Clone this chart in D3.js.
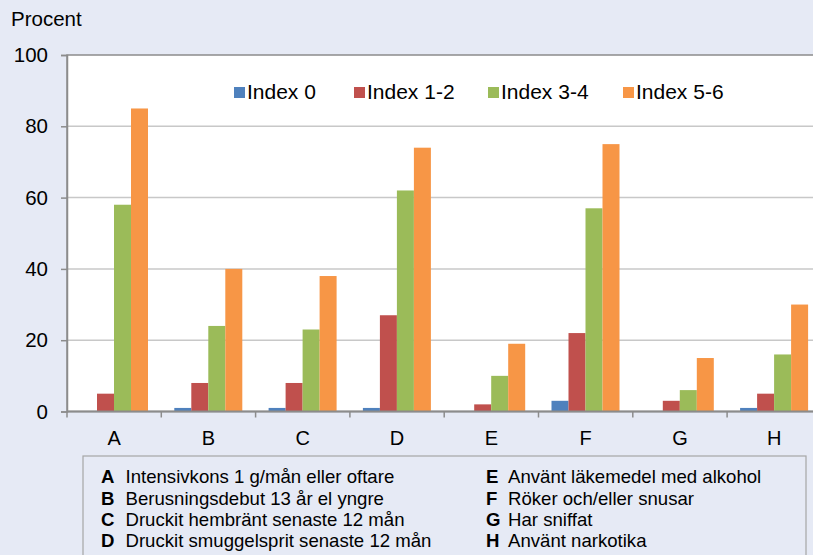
<!DOCTYPE html>
<html><head><meta charset="utf-8">
<script src="https://cdn.jsdelivr.net/npm/d3@7"></script>
<style>body{margin:0;background:#e6eaf5;} svg{display:block;font-family:"Liberation Sans",Arial,sans-serif;}</style>
</head><body>
<script>
const categories = ["A","B","C","D","E","F","G","H"];
const seriesNames = ["Index 0","Index 1-2","Index 3-4","Index 5-6"];
const index0  = [0, 1, 1, 1, 0, 3, 0, 1];
const index12 = [5, 8, 8, 27, 2, 22, 3, 5];
const index34 = [58, 24, 23, 62, 10, 57, 6, 16];
const index56 = [85, 40, 38, 74, 19, 75, 15, 30];
const yTicks = [0, 20, 40, 60, 80, 100];
const notesLeft = [["A","Intensivkons 1 g/mån eller oftare"],["B","Berusningsdebut 13 år el yngre"],["C","Druckit hembränt senaste 12 mån"],["D","Druckit smuggelsprit senaste 12 mån"]];
const notesRight = [["E","Använt läkemedel med alkohol"],["F","Röker och/eller snusar"],["G","Har sniffat"],["H","Använt narkotika"]];
const colors = ["#4f81bd","#c0504d","#9bbb59","#f79646"];
const series = [index0, index12, index34, index56];

(function(){
const W = 813, H = 555;
const svg = d3.select("body").append("svg").attr("width", W).attr("height", H);
svg.append("rect").attr("width", W).attr("height", H).attr("fill", "#e6eaf5");

const pLeft = 67, pTop = 55, pBottom = 411.5, pRight = 67 + 94.3*8;
const x = d3.scaleBand().domain(categories).range([pLeft, pRight]).paddingInner(0).paddingOuter(0);
const x1 = d3.scaleBand().domain(d3.range(4)).range([13, 81]);
const y = d3.scaleLinear().domain([0, 100]).range([pBottom, pTop]);

svg.append("rect").attr("x", pLeft).attr("y", pTop).attr("width", pRight-pLeft).attr("height", pBottom-pTop)
  .attr("fill", "#fff").attr("stroke", "#8c8c8c").attr("stroke-width", 1.5);

svg.append("g").selectAll("line").data(yTicks.filter(d=>d>0 && d<100)).join("line")
  .attr("x1", pLeft).attr("x2", pRight).attr("y1", d=>y(d)).attr("y2", d=>y(d))
  .attr("stroke", "#c8c8c8").attr("stroke-width", 1.5);

const g = svg.append("g");
series.forEach((s, si) => {
  g.selectAll(null).data(s).join("rect")
    .attr("x", (d,i)=>x(categories[i]) + x1(si))
    .attr("width", x1.bandwidth())
    .attr("y", d=>y(d)).attr("height", d=>y(0)-y(d))
    .attr("fill", colors[si]);
});

const yAxis = d3.axisLeft(y).tickValues(yTicks).tickSize(6).tickPadding(13);
const ya = svg.append("g").attr("transform", `translate(${pLeft},0)`).call(yAxis);
ya.select(".domain").attr("stroke", "#8c8c8c").attr("stroke-width", 1.5);
ya.selectAll(".tick line").attr("stroke", "#8c8c8c").attr("stroke-width", 1.5);
ya.selectAll("text").attr("font-size", 20.5).attr("fill", "#000").attr("font-family", "Liberation Sans, Arial, sans-serif");

const boundaries = categories.map(c=>x(c)).concat([pRight]);
const xa = svg.append("g");
xa.append("line").attr("x1", pLeft).attr("x2", pRight).attr("y1", pBottom).attr("y2", pBottom).attr("stroke", "#8c8c8c").attr("stroke-width", 2);
xa.selectAll(".tk").data(boundaries).join("line").attr("class","tk")
  .attr("x1", d=>d).attr("x2", d=>d).attr("y1", pBottom).attr("y2", pBottom+6)
  .attr("stroke", "#8c8c8c").attr("stroke-width", 1.5);
xa.selectAll("text").data(categories).join("text")
  .attr("x", d=>x(d)+x.bandwidth()/2).attr("y", 445).attr("text-anchor","middle")
  .attr("font-size", 20).text(d=>d);

svg.append("text").attr("x", 11).attr("y", 26).attr("font-size", 20.5).text("Procent");

const legX = [234, 354, 488, 623];
const leg = svg.append("g");
seriesNames.forEach((n, i) => {
  leg.append("rect").attr("x", legX[i]).attr("y", 87).attr("width", 11).attr("height", 11).attr("fill", colors[i]);
  leg.append("text").attr("x", legX[i]+13).attr("y", 99).attr("font-size", 21).text(n);
});

svg.append("rect").attr("x", 83).attr("y", 456).attr("width", 723).attr("height", 110)
  .attr("fill", "#e6eaf5").attr("stroke", "#a6a6a6").attr("stroke-width", 1.2);
const rowY = [483, 504.5, 525.5, 547];
function notes(arr, xl, xt) {
  arr.forEach((d, i) => {
    const t = svg.append("text").attr("y", rowY[i]).attr("font-size", 18.6);
    t.append("tspan").attr("x", xl).attr("font-weight", "bold").text(d[0]);
    t.append("tspan").attr("x", xt).text(d[1]);
  });
}
notes(notesLeft, 101, 125.5);
notes(notesRight, 486, 508);
})();
</script>
</body></html>
